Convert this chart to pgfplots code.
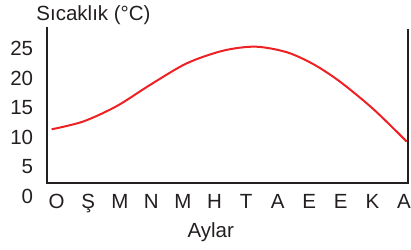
\documentclass[border=0pt]{standalone}
\usepackage{fontspec}
\setmainfont{Liberation Sans}
\usepackage{pgfplots}
\pgfplotsset{compat=1.18}
\definecolor{curvered}{RGB}{237,32,36}
\definecolor{axisdark}{RGB}{35,31,32}
\begin{document}
\fontsize{20.5}{24}\selectfont
\begin{tikzpicture}
\path[use as bounding box] (-47pt,-66pt) rectangle (364pt,183pt);
\begin{axis}[
  at={(0pt,0pt)}, anchor=south west,
  scale only axis, width=361pt, height=156pt,
  xmin=-0.307, xmax=11.13, ymin=2.26, ymax=28.67,
  clip=false,
  axis line style={draw=none},
  tick style={draw=none},
  xtick={0,1,2,3,4,5,6,7,8,9,10,11},
  xticklabels={O,Ş,M,N,M,H,T,A,E,E,K,A},
  xticklabel style={anchor=base, inner sep=0pt, yshift=-25pt, text=axisdark},
  ytick={5,10,15,20,25},
  yticklabel style={anchor=east, inner sep=0pt, xshift=-13.7pt, text=axisdark},
  /pgf/number format/assume math mode=true,
  xlabel={Aylar},
  xlabel style={at={(axis description cs:0.4537,0)}, anchor=base, inner sep=0pt, yshift=-54pt, text=axisdark},
]
\draw[axisdark, line width=2.3pt, line join=miter, line cap=butt]
  (rel axis cs:0,1) -- (rel axis cs:0,0) -- (rel axis cs:1,0) -- (rel axis cs:1,0.99);
\addplot[curvered, line width=2pt, smooth, no marks] coordinates {
  (-0.16,11.35) (0.84,12.67) (1.90,15.27) (2.96,18.87) (4.12,22.52) (5.28,24.67)
  (6.3,25.34) (7.29,24.4) (8.13,22.38) (8.97,19.44) (10.03,14.78) (11.09,9.27)
};
\node[anchor=east, inner sep=0pt, text=axisdark] at (axis cs:-0.307,0) [xshift=-13.7pt] {0};
\node[anchor=base, inner sep=0pt, text=axisdark] at (rel axis cs:0.1288,1) [yshift=6.5pt] {Sıcaklık (°C)};
\end{axis}
\end{tikzpicture}
\end{document}
